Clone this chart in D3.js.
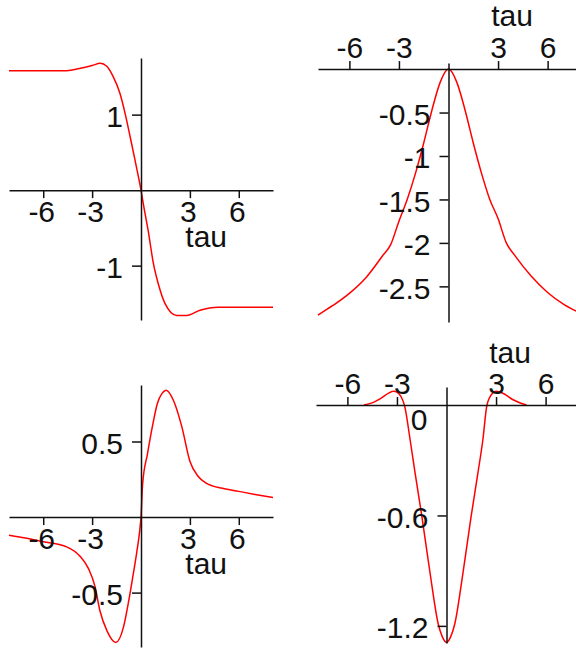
<!DOCTYPE html>
<html>
<head>
<meta charset="utf-8">
<title>tau plots</title>
<script src="https://d3js.org/d3.v7.min.js"></script>
<style>
  body { margin: 0; background: #fff; }
  svg text { font-family: "Liberation Sans", Arial, sans-serif; font-size: 30px; fill: #111; }
  .axis path, .axis line { stroke: #111; stroke-width: 1.5; }
  .curve { fill: none; stroke: #ff0000; stroke-width: 1.5; }
</style>
</head>
<body>
<svg id="chart" width="576" height="651"></svg>
<script>
// ---- data ----
// top-left
var tau1 = [-8.1, -6, -4.6, -4.0, -3, -2.5, -2.1, -1.7, -1.29, -0.98, -0.67, -0.37, -0.16, 0, 0.14, 0.45, 0.76, 1.06, 1.47, 2.19, 2.8, 3.62, 4.74, 6, 8.1];
var val1 = [1.58, 1.58, 1.58, 1.60, 1.65, 1.68, 1.64, 1.5, 1.28, 1.02, 0.71, 0.40, 0.18, 0, -0.18, -0.55, -0.97, -1.24, -1.5, -1.66, -1.66, -1.59, -1.55, -1.55, -1.55];
// top-right
var tau2 = [-7.9, -7, -6, -5, -4, -3.5, -3, -2.5, -2, -1.5, -1, -0.5, 0, 0.5, 1, 1.5, 2, 2.5, 3, 3.5, 4, 5, 6, 7, 7.9];
var val2 = [-2.83, -2.72, -2.58, -2.4, -2.15, -2.02, -1.75, -1.5, -1.2, -0.85, -0.47, -0.15, 0, -0.15, -0.47, -0.85, -1.2, -1.5, -1.72, -2.0, -2.14, -2.38, -2.57, -2.71, -2.8];
// bottom-left
var tau3 = [-8.1, -7, -6, -4.56, -3.74, -3.23, -2.82, -2.52, -2.1, -1.55, -1.08, -0.78, -0.51, -0.27, -0.1, 0, 0.1, 0.4, 0.7, 1, 1.3, 1.55, 2, 2.5, 3, 3.5, 4, 5, 6, 7, 8.1];
var val3 = [-0.12, -0.14, -0.163, -0.197, -0.26, -0.34, -0.46, -0.62, -0.75, -0.83, -0.73, -0.57, -0.40, -0.24, -0.11, 0, 0.22, 0.42, 0.6, 0.75, 0.82, 0.84, 0.77, 0.6, 0.37, 0.27, 0.225, 0.19, 0.17, 0.15, 0.13];
// bottom-right
var tau4 = [-5, -4.5, -4, -3.5, -3.2, -3, -2.55, -2.2, -1.9, -1.5, -1, -0.5, -0.25, 0, 0.25, 0.5, 1, 1.5, 1.9, 2.2, 2.45, 2.8, 3, 3.5, 4, 4.5, 4.85];
var val4 = [0, 0.012, 0.035, 0.065, 0.075, 0.07, 0, -0.19, -0.37, -0.6, -0.91, -1.19, -1.26, -1.29, -1.26, -1.19, -0.91, -0.6, -0.37, -0.19, 0, 0.065, 0.075, 0.06, 0.03, 0.01, 0];

var xTicks = [-6, -3, 3, 6];
var yTicks1 = [1, -1];
var yTicks2 = [-0.5, -1, -1.5, -2, -2.5];
var yTicks3 = [0.5, -0.5];
var yTicks4 = [-0.6, -1.2];
var xLabel = "tau";

var svg = d3.select("#chart");

function panel(cfg) {
  var x = d3.scaleLinear().domain(cfg.xd).range(cfg.xr);
  var y = d3.scaleLinear().domain(cfg.yd).range(cfg.yr);
  var g = svg.append("g");

  var pts = cfg.tau.map(function(t, i) { return [t, cfg.val[i]]; });
  var line = d3.line()
      .x(function(d) { return x(d[0]); })
      .y(function(d) { return y(d[1]); })
      .curve(d3.curveMonotoneX);
  g.append("path").attr("class", "curve").attr("d", line(pts));

  // x axis through y=0
  var xa = (cfg.top ? d3.axisTop(x) : d3.axisBottom(x))
      .tickValues(xTicks)
      .tickFormat(function(d) { return String(d); })
      .tickSize(8)
      .tickSizeOuter(0)
      .tickPadding(3);
  var gx = g.append("g").attr("class", "axis")
      .attr("transform", "translate(0," + y(0) + ")")
      .call(xa);

  // y axis through x=0
  var ya = d3.axisLeft(y)
      .tickValues(cfg.yt)
      .tickFormat(function(d) { return String(d); })
      .tickSize(9)
      .tickSizeOuter(0)
      .tickPadding(9);
  var gy = g.append("g").attr("class", "axis")
      .attr("transform", "translate(" + x(0) + ",0)")
      .call(ya);

  g.selectAll(".axis text").attr("fill", "#111").style("font-size", "30px")
      .style("font-family", '"Liberation Sans", Arial, sans-serif');
  gy.selectAll("text").attr("dy", "0.4em");
  if (!cfg.top) gx.selectAll("text").attr("dx", -2);
  g.selectAll(".axis .domain").attr("stroke", "#111");

  g.append("text")
      .attr("x", x(cfg.labelTau))
      .attr("y", y(0) + cfg.labelDy)
      .attr("text-anchor", "middle")
      .text(xLabel);
  return { x: x, y: y, g: g };
}

panel({ tau: tau1, val: val1, xd: [-8.1, 8.1], xr: [9, 273], yd: [-1.72, 1.75], yr: [320, 58],
        yt: yTicks1, top: false, labelTau: 4, labelDy: 57 });
panel({ tau: tau2, val: val2, xd: [-7.9, 7.9], xr: [318, 579], yd: [-2.91, 0.07], yr: [322, 63],
        yt: yTicks2, top: true, labelTau: 3.85, labelDy: -43 });
panel({ tau: tau3, val: val3, xd: [-8.1, 8.1], xr: [9, 273], yd: [-0.86, 0.874], yr: [647, 385],
        yt: yTicks3, top: false, labelTau: 4, labelDy: 57 });
var p4 = panel({ tau: tau4, val: val4, xd: [-7.9, 7.9], xr: [316, 577], yd: [-1.293, 0.098], yr: [643, 387],
        yt: yTicks4, top: true, labelTau: 3.85, labelDy: -42 });

// zero label of the bottom-right y axis sits under the x axis
p4.g.append("text")
    .attr("x", p4.x(0) - 19)
    .attr("y", p4.y(0) + 25)
    .attr("text-anchor", "end")
    .text("0");
</script>
</body>
</html>
